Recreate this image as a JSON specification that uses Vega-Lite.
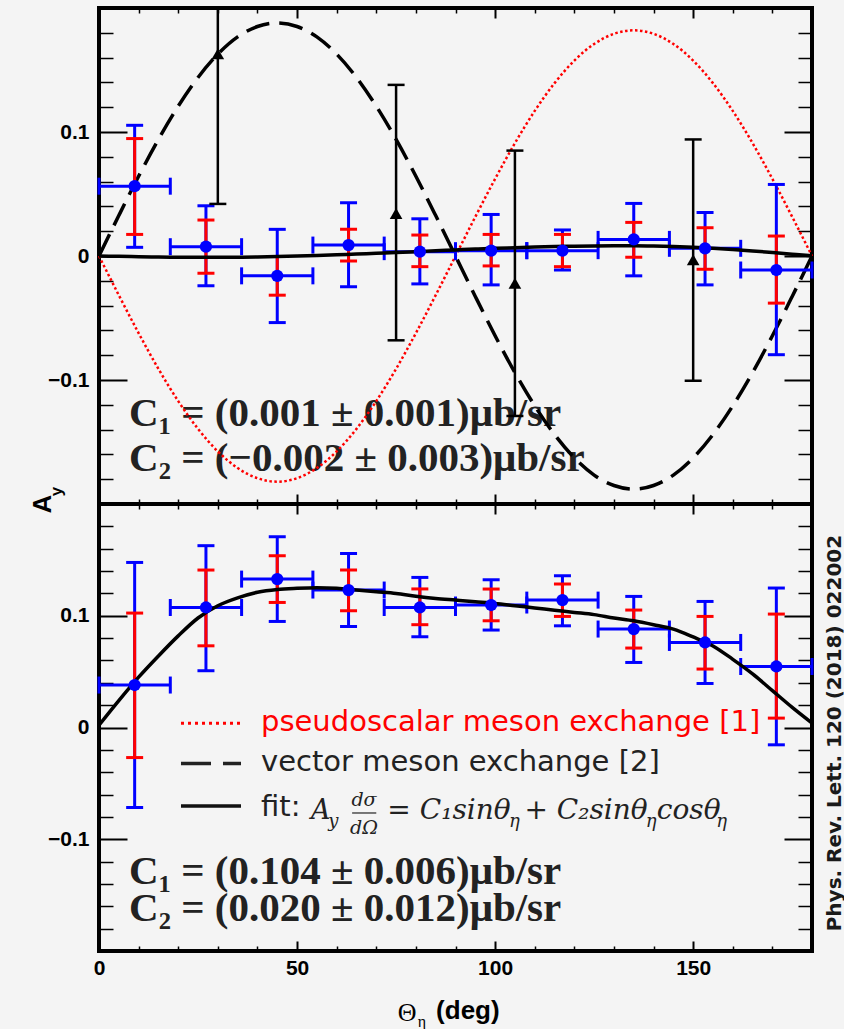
{
  "$schema": "https://vega.github.io/schema/vega-lite/v6.json",
  "background": "#f4f4f4",
  "padding": {"left": 28, "top": 5, "right": 0, "bottom": 0},
  "bounds": "flush",
  "spacing": 0,
  "config": {
    "view": {"stroke": "#000000", "strokeWidth": 4},
    "axis": {"domain": false, "grid": false, "tickColor": "#000000", "labelFont": "Liberation Sans", "labelFontWeight": "bold", "labelFontSize": 21, "labelColor": "#000000", "labelFlush": false, "zindex": 2}
  },
  "datasets": {
    "top": [
      {"t": 9, "x0": 0, "x1": 18, "v": 0.0563, "blo": 0.007, "bhi": 0.1054, "rlo": 0.0174, "rhi": 0.0947},
      {"t": 27, "x0": 18, "x1": 36, "v": 0.0075, "blo": -0.024, "bhi": 0.0405, "rlo": -0.0139, "rhi": 0.029},
      {"t": 45, "x0": 36, "x1": 54, "v": -0.016, "blo": -0.0537, "bhi": 0.0215, "rlo": -0.0316, "rhi": -0.0004},
      {"t": 63, "x0": 54, "x1": 72, "v": 0.0088, "blo": -0.0247, "bhi": 0.0429, "rlo": -0.004, "rhi": 0.0215},
      {"t": 81, "x0": 72, "x1": 90, "v": 0.0035, "blo": -0.0225, "bhi": 0.03, "rlo": -0.0086, "rhi": 0.0169},
      {"t": 99, "x0": 90, "x1": 108, "v": 0.0043, "blo": -0.0233, "bhi": 0.0335, "rlo": -0.008, "rhi": 0.0174},
      {"t": 117, "x0": 108, "x1": 126, "v": 0.0043, "blo": -0.0113, "bhi": 0.021, "rlo": -0.0086, "rhi": 0.0174},
      {"t": 135, "x0": 126, "x1": 144, "v": 0.0134, "blo": -0.016, "bhi": 0.0424, "rlo": -0.001, "rhi": 0.0271},
      {"t": 153, "x0": 144, "x1": 162, "v": 0.0062, "blo": -0.0233, "bhi": 0.0351, "rlo": -0.0107, "rhi": 0.0228},
      {"t": 171, "x0": 162, "x1": 180, "v": -0.0113, "blo": -0.0796, "bhi": 0.0577, "rlo": -0.038, "rhi": 0.0161}
    ],
    "bot": [
      {"t": 9, "x0": 0, "x1": 18, "v": 0.038, "blo": -0.0716, "bhi": 0.1477, "rlo": -0.0269, "rhi": 0.1024},
      {"t": 27, "x0": 18, "x1": 36, "v": 0.1074, "blo": 0.0508, "bhi": 0.1627, "rlo": 0.0731, "rhi": 0.1409},
      {"t": 45, "x0": 36, "x1": 54, "v": 0.1328, "blo": 0.0949, "bhi": 0.1707, "rlo": 0.1119, "rhi": 0.1537},
      {"t": 63, "x0": 54, "x1": 72, "v": 0.123, "blo": 0.0904, "bhi": 0.1558, "rlo": 0.1045, "rhi": 0.1409},
      {"t": 81, "x0": 72, "x1": 90, "v": 0.1074, "blo": 0.0812, "bhi": 0.1343, "rlo": 0.092, "rhi": 0.124},
      {"t": 99, "x0": 90, "x1": 108, "v": 0.1096, "blo": 0.0872, "bhi": 0.1322, "rlo": 0.0955, "rhi": 0.1239},
      {"t": 117, "x0": 108, "x1": 126, "v": 0.114, "blo": 0.091, "bhi": 0.1358, "rlo": 0.0994, "rhi": 0.1284},
      {"t": 135, "x0": 126, "x1": 144, "v": 0.0881, "blo": 0.0582, "bhi": 0.1173, "rlo": 0.0711, "rhi": 0.1051},
      {"t": 153, "x0": 144, "x1": 162, "v": 0.0761, "blo": 0.0394, "bhi": 0.1128, "rlo": 0.0523, "rhi": 0.0994},
      {"t": 171, "x0": 162, "x1": 180, "v": 0.0546, "blo": -0.0155, "bhi": 0.1248, "rlo": 0.0084, "rhi": 0.1015}
    ],
    "blk": [
      {"t": 30, "v": 0.163, "lo": 0.042, "hi": 0.284},
      {"t": 75, "v": 0.0343, "lo": -0.068, "hi": 0.138},
      {"t": 105, "v": -0.022, "lo": -0.129, "hi": 0.085},
      {"t": 150, "v": -0.003, "lo": -0.1006, "hi": 0.094}
    ],
    "ct": [
      {"t": 0, "ps": 0, "vec": 0, "fit": 0},
      {"t": 5, "ps": -0.0316, "vec": 0.0326, "fit": -0.0003},
      {"t": 10, "ps": -0.0622, "vec": 0.0643, "fit": -0.0006},
      {"t": 15, "ps": -0.091, "vec": 0.094, "fit": -0.0008},
      {"t": 20, "ps": -0.117, "vec": 0.1208, "fit": -0.001},
      {"t": 25, "ps": -0.1394, "vec": 0.144, "fit": -0.0011},
      {"t": 30, "ps": -0.1576, "vec": 0.1628, "fit": -0.0011},
      {"t": 35, "ps": -0.171, "vec": 0.1767, "fit": -0.001},
      {"t": 40, "ps": -0.1792, "vec": 0.1851, "fit": -0.0008},
      {"t": 45, "ps": -0.182, "vec": 0.188, "fit": -0.0005},
      {"t": 50, "ps": -0.1792, "vec": 0.1851, "fit": -0.0001},
      {"t": 55, "ps": -0.171, "vec": 0.1767, "fit": 0.0004},
      {"t": 60, "ps": -0.1576, "vec": 0.1628, "fit": 0.001},
      {"t": 65, "ps": -0.1394, "vec": 0.144, "fit": 0.0016},
      {"t": 70, "ps": -0.117, "vec": 0.1208, "fit": 0.0022},
      {"t": 75, "ps": -0.091, "vec": 0.094, "fit": 0.0028},
      {"t": 80, "ps": -0.0622, "vec": 0.0643, "fit": 0.0035},
      {"t": 85, "ps": -0.0316, "vec": 0.0326, "fit": 0.0042},
      {"t": 90, "ps": 0, "vec": 0, "fit": 0.0049},
      {"t": 95, "ps": 0.0316, "vec": -0.0326, "fit": 0.0056},
      {"t": 100, "ps": 0.0622, "vec": -0.0643, "fit": 0.0062},
      {"t": 105, "ps": 0.091, "vec": -0.094, "fit": 0.0067},
      {"t": 110, "ps": 0.117, "vec": -0.1208, "fit": 0.0072},
      {"t": 115, "ps": 0.1394, "vec": -0.144, "fit": 0.0076},
      {"t": 120, "ps": 0.1576, "vec": -0.1628, "fit": 0.0079},
      {"t": 125, "ps": 0.171, "vec": -0.1767, "fit": 0.0081},
      {"t": 130, "ps": 0.1792, "vec": -0.1851, "fit": 0.0082},
      {"t": 135, "ps": 0.182, "vec": -0.188, "fit": 0.0082},
      {"t": 140, "ps": 0.1792, "vec": -0.1851, "fit": 0.008},
      {"t": 145, "ps": 0.171, "vec": -0.1767, "fit": 0.0076},
      {"t": 150, "ps": 0.1576, "vec": -0.1628, "fit": 0.007},
      {"t": 155, "ps": 0.1394, "vec": -0.144, "fit": 0.0062},
      {"t": 160, "ps": 0.117, "vec": -0.1208, "fit": 0.0052},
      {"t": 165, "ps": 0.091, "vec": -0.094, "fit": 0.0041},
      {"t": 170, "ps": 0.0622, "vec": -0.0643, "fit": 0.0028},
      {"t": 175, "ps": 0.0316, "vec": -0.0326, "fit": 0.0015},
      {"t": 180, "ps": 0, "vec": 0, "fit": 0.0002}
    ],
    "cb": [
      {"t": 0, "fit": 0.002}, {"t": 5, "fit": 0.024}, {"t": 10, "fit": 0.045}, {"t": 15, "fit": 0.064},
      {"t": 20, "fit": 0.082}, {"t": 25, "fit": 0.098}, {"t": 30, "fit": 0.109}, {"t": 35, "fit": 0.116},
      {"t": 40, "fit": 0.121}, {"t": 45, "fit": 0.1235}, {"t": 50, "fit": 0.1245}, {"t": 55, "fit": 0.125},
      {"t": 60, "fit": 0.1245}, {"t": 65, "fit": 0.123}, {"t": 70, "fit": 0.1215}, {"t": 75, "fit": 0.12},
      {"t": 80, "fit": 0.1175}, {"t": 85, "fit": 0.1155}, {"t": 90, "fit": 0.114}, {"t": 95, "fit": 0.1125},
      {"t": 100, "fit": 0.111}, {"t": 105, "fit": 0.109}, {"t": 110, "fit": 0.107}, {"t": 115, "fit": 0.105},
      {"t": 120, "fit": 0.103}, {"t": 125, "fit": 0.101}, {"t": 130, "fit": 0.098}, {"t": 135, "fit": 0.0955},
      {"t": 140, "fit": 0.092}, {"t": 145, "fit": 0.088}, {"t": 150, "fit": 0.081}, {"t": 155, "fit": 0.073},
      {"t": 160, "fit": 0.061}, {"t": 165, "fit": 0.048}, {"t": 170, "fit": 0.033}, {"t": 175, "fit": 0.018},
      {"t": 180, "fit": 0.004}
    ]
  },
  "vconcat": [
    {
      "width": 713,
      "height": 496,
      "resolve": {"axis": {"x": "independent", "y": "independent"}},
      "layer": [
        {"data": {"values": [{}]}, "mark": {"type": "text", "text": "C₁ = (0.001 ± 0.001)μb/sr", "font": "Liberation Serif", "fontSize": 41, "fontWeight": "bold", "align": "left", "baseline": "alphabetic", "color": "#222222"},
         "encoding": {"x": {"datum": 7.6, "type": "quantitative", "axis": null}, "y": {"datum": -0.1368, "type": "quantitative", "axis": null}}},
        {"data": {"values": [{}]}, "mark": {"type": "text", "text": "C₂ = (−0.002 ± 0.003)μb/sr", "font": "Liberation Serif", "fontSize": 41, "fontWeight": "bold", "align": "left", "baseline": "alphabetic", "color": "#222222"},
         "encoding": {"x": {"datum": 7.6, "type": "quantitative", "axis": null}, "y": {"datum": -0.173, "type": "quantitative", "axis": null}}},
        {"data": {"name": "ct"}, "mark": {"type": "line", "color": "#ff0000", "strokeWidth": 2.5, "strokeDash": [2.5, 2.5], "interpolate": "monotone"},
         "encoding": {
           "x": {"field": "t", "type": "quantitative", "scale": {"domain": [0, 180], "nice": false, "zero": false}, "axis": {"orient": "bottom", "values": [0, 50, 100, 150], "tickSize": -10, "tickWidth": 2, "labels": false, "title": null}},
           "y": {"field": "ps", "type": "quantitative", "scale": {"domain": [-0.2, 0.2], "nice": false, "zero": false}, "axis": {"orient": "left", "values": [-0.1, 0, 0.1], "format": "~g", "tickSize": -28, "tickWidth": 2, "labelPadding": 38, "title": null}}}},
        {"data": {"name": "ct"}, "mark": {"type": "line", "color": "#000000", "strokeWidth": 3.5, "strokeDash": [24, 10], "interpolate": "monotone"},
         "encoding": {
           "x": {"field": "t", "type": "quantitative", "axis": {"orient": "bottom", "values": [10, 20, 30, 40, 60, 70, 80, 90, 110, 120, 130, 140, 160, 170], "tickSize": -5, "tickWidth": 1.5, "labels": false, "title": null}},
           "y": {"field": "vec", "type": "quantitative", "axis": {"orient": "left", "values": [-0.18, -0.16, -0.14, -0.12, -0.08, -0.06, -0.04, -0.02, 0.02, 0.04, 0.06, 0.08, 0.12, 0.14, 0.16, 0.18], "tickSize": -14, "tickWidth": 1.5, "labels": false, "title": null}}}},
        {"data": {"name": "top"}, "mark": {"type": "rule", "color": "#0000ff", "strokeWidth": 3},
         "encoding": {
           "x": {"field": "t", "type": "quantitative", "axis": {"orient": "top", "values": [0, 50, 100, 150], "tickSize": -10, "tickWidth": 2, "labels": false, "title": null}},
           "y": {"field": "blo", "type": "quantitative", "axis": {"orient": "right", "values": [-0.1, 0, 0.1], "tickSize": -28, "tickWidth": 2, "labels": false, "title": null}},
           "y2": {"field": "bhi"}}},
        {"data": {"name": "top"}, "mark": {"type": "tick", "orient": "horizontal", "color": "#0000ff", "size": 17, "thickness": 3, "opacity": 1},
         "encoding": {
           "x": {"field": "t", "type": "quantitative", "axis": {"orient": "top", "values": [10, 20, 30, 40, 60, 70, 80, 90, 110, 120, 130, 140, 160, 170], "tickSize": -5, "tickWidth": 1.5, "labels": false, "title": null}},
           "y": {"field": "blo", "type": "quantitative", "axis": {"orient": "right", "values": [-0.18, -0.16, -0.14, -0.12, -0.08, -0.06, -0.04, -0.02, 0.02, 0.04, 0.06, 0.08, 0.12, 0.14, 0.16, 0.18], "tickSize": -14, "tickWidth": 1.5, "labels": false, "title": null}}}},
        {"data": {"name": "top"}, "mark": {"type": "tick", "orient": "horizontal", "color": "#0000ff", "size": 17, "thickness": 3, "opacity": 1},
         "encoding": {"x": {"field": "t", "type": "quantitative", "axis": null}, "y": {"field": "bhi", "type": "quantitative", "axis": null}}},
        {"data": {"name": "top"}, "mark": {"type": "rule", "color": "#ff0000", "strokeWidth": 3},
         "encoding": {"x": {"field": "t", "type": "quantitative", "axis": null}, "y": {"field": "rlo", "type": "quantitative", "axis": null}, "y2": {"field": "rhi"}}},
        {"data": {"name": "top"}, "mark": {"type": "tick", "orient": "horizontal", "color": "#ff0000", "size": 17, "thickness": 3, "opacity": 1},
         "encoding": {"x": {"field": "t", "type": "quantitative", "axis": null}, "y": {"field": "rlo", "type": "quantitative", "axis": null}}},
        {"data": {"name": "top"}, "mark": {"type": "tick", "orient": "horizontal", "color": "#ff0000", "size": 17, "thickness": 3, "opacity": 1},
         "encoding": {"x": {"field": "t", "type": "quantitative", "axis": null}, "y": {"field": "rhi", "type": "quantitative", "axis": null}}},
        {"data": {"name": "top"}, "mark": {"type": "rule", "color": "#0000ff", "strokeWidth": 3},
         "encoding": {"x": {"field": "x0", "type": "quantitative", "axis": null}, "x2": {"field": "x1"}, "y": {"field": "v", "type": "quantitative", "axis": null}}},
        {"data": {"name": "top"}, "mark": {"type": "tick", "orient": "vertical", "color": "#0000ff", "size": 17, "thickness": 3, "opacity": 1},
         "encoding": {"x": {"field": "x0", "type": "quantitative", "axis": null}, "y": {"field": "v", "type": "quantitative", "axis": null}}},
        {"data": {"name": "top"}, "mark": {"type": "tick", "orient": "vertical", "color": "#0000ff", "size": 17, "thickness": 3, "opacity": 1},
         "encoding": {"x": {"field": "x1", "type": "quantitative", "axis": null}, "y": {"field": "v", "type": "quantitative", "axis": null}}},
        {"data": {"name": "ct"}, "mark": {"type": "line", "color": "#000000", "strokeWidth": 3.5, "interpolate": "monotone"},
         "encoding": {"x": {"field": "t", "type": "quantitative", "axis": null}, "y": {"field": "fit", "type": "quantitative", "axis": null}}},
        {"data": {"name": "top"}, "mark": {"type": "point", "shape": "circle", "filled": true, "color": "#0000ff", "size": 150, "opacity": 1},
         "encoding": {"x": {"field": "t", "type": "quantitative", "axis": null}, "y": {"field": "v", "type": "quantitative", "axis": null}}},
        {"data": {"name": "blk"}, "mark": {"type": "rule", "color": "#000000", "strokeWidth": 2.5, "clip": true},
         "encoding": {"x": {"field": "t", "type": "quantitative", "axis": null}, "y": {"field": "lo", "type": "quantitative", "axis": null}, "y2": {"field": "hi"}}},
        {"data": {"name": "blk"}, "mark": {"type": "tick", "orient": "horizontal", "color": "#000000", "size": 17, "thickness": 2.5, "opacity": 1, "clip": true},
         "encoding": {"x": {"field": "t", "type": "quantitative", "axis": null}, "y": {"field": "lo", "type": "quantitative", "axis": null}}},
        {"data": {"name": "blk"}, "mark": {"type": "tick", "orient": "horizontal", "color": "#000000", "size": 17, "thickness": 2.5, "opacity": 1, "clip": true},
         "encoding": {"x": {"field": "t", "type": "quantitative", "axis": null}, "y": {"field": "hi", "type": "quantitative", "axis": null}}},
        {"data": {"name": "blk"}, "mark": {"type": "point", "shape": "triangle-up", "filled": true, "color": "#000000", "size": 160, "opacity": 1},
         "encoding": {"x": {"field": "t", "type": "quantitative", "axis": null}, "y": {"field": "v", "type": "quantitative", "axis": null}}},
        {"data": {"values": [{}]}, "mark": {"type": "text", "text": "A", "font": "Liberation Sans", "fontSize": 26, "fontWeight": "bold", "angle": 270, "align": "center", "baseline": "middle", "color": "#000000"},
         "encoding": {"x": {"datum": -14.1, "type": "quantitative", "axis": null}, "y": {"datum": -0.2, "type": "quantitative", "axis": null}}},
        {"data": {"values": [{}]}, "mark": {"type": "text", "text": "y", "font": "Liberation Sans", "fontSize": 17, "fontWeight": "bold", "angle": 270, "align": "center", "baseline": "middle", "color": "#000000"},
         "encoding": {"x": {"datum": -10.6, "type": "quantitative", "axis": null}, "y": {"datum": -0.19, "type": "quantitative", "axis": null}}}
      ]
    },
    {
      "width": 713,
      "height": 447,
      "resolve": {"axis": {"x": "independent", "y": "independent"}},
      "layer": [
        {"data": {"name": "bot"}, "mark": {"type": "rule", "color": "#0000ff", "strokeWidth": 3},
         "encoding": {
           "x": {"field": "t", "type": "quantitative", "scale": {"domain": [0, 180], "nice": false, "zero": false}, "axis": {"orient": "bottom", "values": [0, 50, 100, 150], "format": "d", "tickSize": -10, "tickWidth": 2, "labelPadding": 16, "title": null}},
           "y": {"field": "blo", "type": "quantitative", "scale": {"domain": [-0.2, 0.2], "nice": false, "zero": false}, "axis": {"orient": "left", "values": [-0.1, 0, 0.1], "format": "~g", "tickSize": -28, "tickWidth": 2, "labelPadding": 38, "title": null}},
           "y2": {"field": "bhi"}}},
        {"data": {"name": "bot"}, "mark": {"type": "tick", "orient": "horizontal", "color": "#0000ff", "size": 17, "thickness": 3, "opacity": 1},
         "encoding": {
           "x": {"field": "t", "type": "quantitative", "axis": {"orient": "bottom", "values": [10, 20, 30, 40, 60, 70, 80, 90, 110, 120, 130, 140, 160, 170], "tickSize": -5, "tickWidth": 1.5, "labels": false, "title": null}},
           "y": {"field": "blo", "type": "quantitative", "axis": {"orient": "left", "values": [-0.18, -0.16, -0.14, -0.12, -0.08, -0.06, -0.04, -0.02, 0.02, 0.04, 0.06, 0.08, 0.12, 0.14, 0.16, 0.18], "tickSize": -14, "tickWidth": 1.5, "labels": false, "title": null}}}},
        {"data": {"name": "bot"}, "mark": {"type": "tick", "orient": "horizontal", "color": "#0000ff", "size": 17, "thickness": 3, "opacity": 1},
         "encoding": {
           "x": {"field": "t", "type": "quantitative", "axis": {"orient": "top", "values": [0, 50, 100, 150], "tickSize": -10, "tickWidth": 2, "labels": false, "title": null}},
           "y": {"field": "bhi", "type": "quantitative", "axis": {"orient": "right", "values": [-0.1, 0, 0.1], "tickSize": -28, "tickWidth": 2, "labels": false, "title": null}}}},
        {"data": {"name": "bot"}, "mark": {"type": "rule", "color": "#ff0000", "strokeWidth": 3},
         "encoding": {
           "x": {"field": "t", "type": "quantitative", "axis": {"orient": "top", "values": [10, 20, 30, 40, 60, 70, 80, 90, 110, 120, 130, 140, 160, 170], "tickSize": -5, "tickWidth": 1.5, "labels": false, "title": null}},
           "y": {"field": "rlo", "type": "quantitative", "axis": {"orient": "right", "values": [-0.18, -0.16, -0.14, -0.12, -0.08, -0.06, -0.04, -0.02, 0.02, 0.04, 0.06, 0.08, 0.12, 0.14, 0.16, 0.18], "tickSize": -14, "tickWidth": 1.5, "labels": false, "title": null}},
           "y2": {"field": "rhi"}}},
        {"data": {"name": "bot"}, "mark": {"type": "tick", "orient": "horizontal", "color": "#ff0000", "size": 17, "thickness": 3, "opacity": 1},
         "encoding": {"x": {"field": "t", "type": "quantitative", "axis": null}, "y": {"field": "rlo", "type": "quantitative", "axis": null}}},
        {"data": {"name": "bot"}, "mark": {"type": "tick", "orient": "horizontal", "color": "#ff0000", "size": 17, "thickness": 3, "opacity": 1},
         "encoding": {"x": {"field": "t", "type": "quantitative", "axis": null}, "y": {"field": "rhi", "type": "quantitative", "axis": null}}},
        {"data": {"name": "bot"}, "mark": {"type": "rule", "color": "#0000ff", "strokeWidth": 3},
         "encoding": {"x": {"field": "x0", "type": "quantitative", "axis": null}, "x2": {"field": "x1"}, "y": {"field": "v", "type": "quantitative", "axis": null}}},
        {"data": {"name": "bot"}, "mark": {"type": "tick", "orient": "vertical", "color": "#0000ff", "size": 17, "thickness": 3, "opacity": 1},
         "encoding": {"x": {"field": "x0", "type": "quantitative", "axis": null}, "y": {"field": "v", "type": "quantitative", "axis": null}}},
        {"data": {"name": "bot"}, "mark": {"type": "tick", "orient": "vertical", "color": "#0000ff", "size": 17, "thickness": 3, "opacity": 1},
         "encoding": {"x": {"field": "x1", "type": "quantitative", "axis": null}, "y": {"field": "v", "type": "quantitative", "axis": null}}},
        {"data": {"name": "cb"}, "mark": {"type": "line", "color": "#000000", "strokeWidth": 3.5, "interpolate": "monotone"},
         "encoding": {"x": {"field": "t", "type": "quantitative", "axis": null}, "y": {"field": "fit", "type": "quantitative", "axis": null}}},
        {"data": {"name": "bot"}, "mark": {"type": "point", "shape": "circle", "filled": true, "color": "#0000ff", "size": 150, "opacity": 1},
         "encoding": {"x": {"field": "t", "type": "quantitative", "axis": null}, "y": {"field": "v", "type": "quantitative", "axis": null}}},
        {"data": {"values": [{}]}, "mark": {"type": "rule", "color": "#ff0000", "strokeWidth": 3, "strokeDash": [3, 4]},
         "encoding": {"x": {"datum": 20.7, "type": "quantitative", "axis": null}, "x2": {"datum": 35.85}, "y": {"datum": 0.0038, "type": "quantitative", "axis": null}}},
        {"data": {"values": [{}]}, "mark": {"type": "rule", "color": "#222222", "strokeWidth": 3.5, "strokeDash": [30, 12]},
         "encoding": {"x": {"datum": 20.7, "type": "quantitative", "axis": null}, "x2": {"datum": 35.85}, "y": {"datum": -0.0323, "type": "quantitative", "axis": null}}},
        {"data": {"values": [{}]}, "mark": {"type": "rule", "color": "#111111", "strokeWidth": 3.5},
         "encoding": {"x": {"datum": 20.7, "type": "quantitative", "axis": null}, "x2": {"datum": 35.85}, "y": {"datum": -0.0702, "type": "quantitative", "axis": null}}},
        {"data": {"values": [{}]}, "mark": {"type": "text", "text": "pseudoscalar meson exchange [1]", "font": "DejaVu Sans", "fontSize": 29, "align": "left", "baseline": "alphabetic", "color": "#ff0000"},
         "encoding": {"x": {"datum": 40.9, "type": "quantitative", "axis": null}, "y": {"datum": -0.0028, "type": "quantitative", "axis": null}}},
        {"data": {"values": [{}]}, "mark": {"type": "text", "text": "vector meson exchange [2]", "font": "DejaVu Sans", "fontSize": 29, "align": "left", "baseline": "alphabetic", "color": "#222222"},
         "encoding": {"x": {"datum": 40.9, "type": "quantitative", "axis": null}, "y": {"datum": -0.0386, "type": "quantitative", "axis": null}}},
        {"data": {"values": [{}]}, "mark": {"type": "text", "text": "fit:", "font": "DejaVu Sans", "fontSize": 29, "align": "left", "baseline": "alphabetic", "color": "#222222"},
         "encoding": {"x": {"datum": 40.9, "type": "quantitative", "axis": null}, "y": {"datum": -0.0796, "type": "quantitative", "axis": null}}},
        {"data": {"values": [{}]}, "mark": {"type": "text", "text": "A", "font": "DejaVu Serif", "fontStyle": "italic", "fontSize": 27, "align": "left", "baseline": "alphabetic", "color": "#222222"},
         "encoding": {"x": {"datum": 53.5, "type": "quantitative", "axis": null}, "y": {"datum": -0.0815, "type": "quantitative", "axis": null}}},
        {"data": {"values": [{}]}, "mark": {"type": "text", "text": "y", "font": "DejaVu Serif", "fontStyle": "italic", "fontSize": 18, "align": "left", "baseline": "alphabetic", "color": "#222222"},
         "encoding": {"x": {"datum": 57.9, "type": "quantitative", "axis": null}, "y": {"datum": -0.0887, "type": "quantitative", "axis": null}}},
        {"data": {"values": [{}]}, "mark": {"type": "text", "text": "dσ", "font": "DejaVu Serif", "fontStyle": "italic", "fontSize": 19, "align": "center", "baseline": "alphabetic", "color": "#222222"},
         "encoding": {"x": {"datum": 66.9, "type": "quantitative", "axis": null}, "y": {"datum": -0.0698, "type": "quantitative", "axis": null}}},
        {"data": {"values": [{}]}, "mark": {"type": "rule", "color": "#222222", "strokeWidth": 1.2},
         "encoding": {"x": {"datum": 63.9, "type": "quantitative", "axis": null}, "x2": {"datum": 70.0}, "y": {"datum": -0.0765, "type": "quantitative", "axis": null}}},
        {"data": {"values": [{}]}, "mark": {"type": "text", "text": "dΩ", "font": "DejaVu Serif", "fontStyle": "italic", "fontSize": 19, "align": "center", "baseline": "alphabetic", "color": "#222222"},
         "encoding": {"x": {"datum": 66.9, "type": "quantitative", "axis": null}, "y": {"datum": -0.0949, "type": "quantitative", "axis": null}}},
        {"data": {"values": [{}]}, "mark": {"type": "text", "text": "= C₁sinθ", "font": "DejaVu Serif", "fontStyle": "italic", "fontSize": 28, "align": "left", "baseline": "alphabetic", "color": "#222222"},
         "encoding": {"x": {"datum": 72.8, "type": "quantitative", "axis": null}, "y": {"datum": -0.0815, "type": "quantitative", "axis": null}}},
        {"data": {"values": [{}]}, "mark": {"type": "text", "text": "η", "font": "DejaVu Serif", "fontStyle": "italic", "fontSize": 18, "align": "left", "baseline": "alphabetic", "color": "#222222"},
         "encoding": {"x": {"datum": 103.5, "type": "quantitative", "axis": null}, "y": {"datum": -0.0887, "type": "quantitative", "axis": null}}},
        {"data": {"values": [{}]}, "mark": {"type": "text", "text": "+ C₂sinθ", "font": "DejaVu Serif", "fontStyle": "italic", "fontSize": 28, "align": "left", "baseline": "alphabetic", "color": "#222222"},
         "encoding": {"x": {"datum": 107.4, "type": "quantitative", "axis": null}, "y": {"datum": -0.0815, "type": "quantitative", "axis": null}}},
        {"data": {"values": [{}]}, "mark": {"type": "text", "text": "η", "font": "DejaVu Serif", "fontStyle": "italic", "fontSize": 18, "align": "left", "baseline": "alphabetic", "color": "#222222"},
         "encoding": {"x": {"datum": 138.0, "type": "quantitative", "axis": null}, "y": {"datum": -0.0887, "type": "quantitative", "axis": null}}},
        {"data": {"values": [{}]}, "mark": {"type": "text", "text": "cosθ", "font": "DejaVu Serif", "fontStyle": "italic", "fontSize": 28, "align": "left", "baseline": "alphabetic", "color": "#222222"},
         "encoding": {"x": {"datum": 140.8, "type": "quantitative", "axis": null}, "y": {"datum": -0.0815, "type": "quantitative", "axis": null}}},
        {"data": {"values": [{}]}, "mark": {"type": "text", "text": "η", "font": "DejaVu Serif", "fontStyle": "italic", "fontSize": 18, "align": "left", "baseline": "alphabetic", "color": "#222222"},
         "encoding": {"x": {"datum": 155.8, "type": "quantitative", "axis": null}, "y": {"datum": -0.0887, "type": "quantitative", "axis": null}}},
        {"data": {"values": [{}]}, "mark": {"type": "text", "text": "C₁ = (0.104 ± 0.006)μb/sr", "font": "Liberation Serif", "fontSize": 41, "fontWeight": "bold", "align": "left", "baseline": "alphabetic", "color": "#222222"},
         "encoding": {"x": {"datum": 7.6, "type": "quantitative", "axis": null}, "y": {"datum": -0.1397, "type": "quantitative", "axis": null}}},
        {"data": {"values": [{}]}, "mark": {"type": "text", "text": "C₂ = (0.020 ± 0.012)μb/sr", "font": "Liberation Serif", "fontSize": 41, "fontWeight": "bold", "align": "left", "baseline": "alphabetic", "color": "#222222"},
         "encoding": {"x": {"datum": 7.6, "type": "quantitative", "axis": null}, "y": {"datum": -0.1728, "type": "quantitative", "axis": null}}},
        {"data": {"values": [{}]}, "mark": {"type": "text", "text": "Θ", "font": "Liberation Serif", "fontSize": 26, "align": "center", "baseline": "alphabetic", "color": "#000000"},
         "encoding": {"x": {"datum": 77.8, "type": "quantitative", "axis": null}, "y": {"datum": -0.2623, "type": "quantitative", "axis": null}}},
        {"data": {"values": [{}]}, "mark": {"type": "text", "text": "η", "font": "Liberation Serif", "fontSize": 16, "align": "left", "baseline": "alphabetic", "color": "#000000"},
         "encoding": {"x": {"datum": 80.5, "type": "quantitative", "axis": null}, "y": {"datum": -0.2677, "type": "quantitative", "axis": null}}},
        {"data": {"values": [{}]}, "mark": {"type": "text", "text": "(deg)", "font": "Liberation Sans", "fontSize": 26, "fontWeight": "bold", "align": "left", "baseline": "alphabetic", "color": "#000000"},
         "encoding": {"x": {"datum": 85.1, "type": "quantitative", "axis": null}, "y": {"datum": -0.2605, "type": "quantitative", "axis": null}}},
        {"data": {"values": [{}]}, "mark": {"type": "text", "text": "Phys. Rev. Lett. 120 (2018) 022002", "font": "DejaVu Sans", "fontSize": 20, "fontWeight": "bold", "angle": 270, "align": "center", "baseline": "middle", "color": "#1a1a1a"},
         "encoding": {"x": {"datum": 185.8, "type": "quantitative", "axis": null}, "y": {"datum": -0.005, "type": "quantitative", "axis": null}}}
      ]
    }
  ]
}
